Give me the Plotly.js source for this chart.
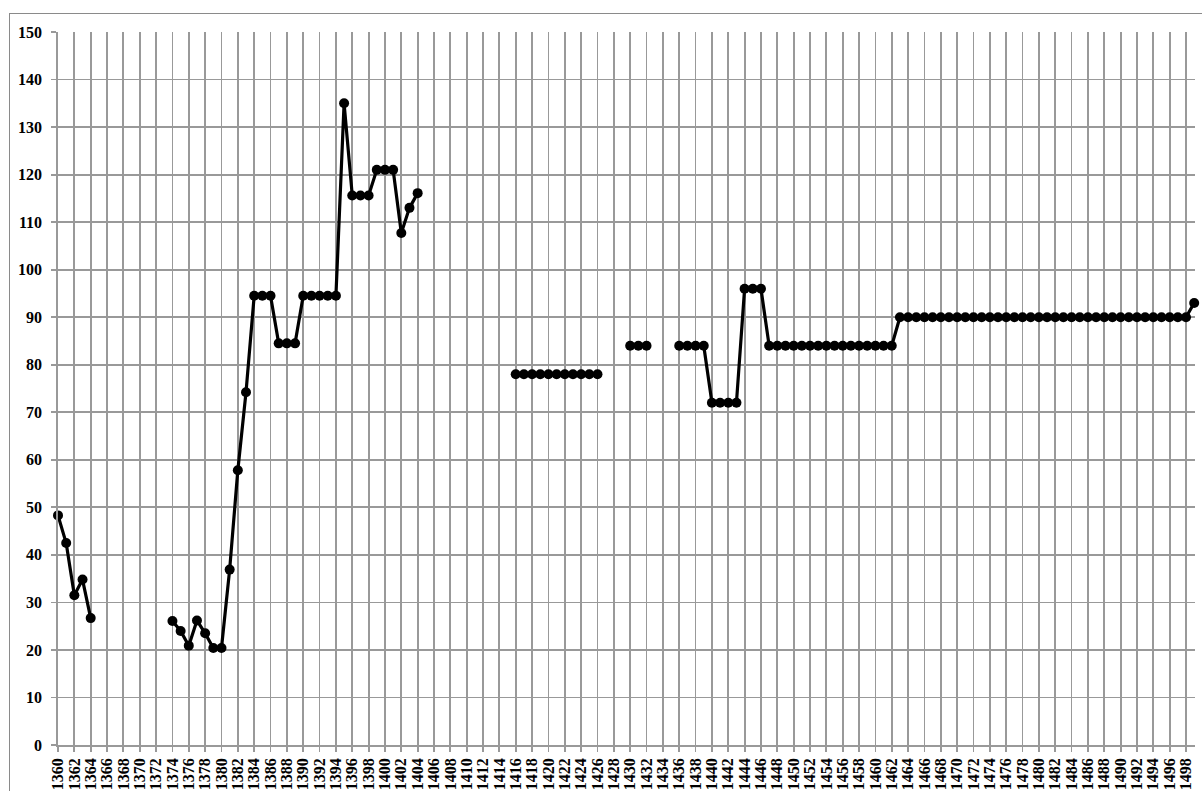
<!DOCTYPE html>
<html>
<head>
<meta charset="utf-8">
<script src="https://cdn.plot.ly/plotly-3.0.1.min.js"></script>
<style>
  html, body { margin: 0; padding: 0; background: #fff; overflow: hidden; }
  #wrap { position: relative; width: 1202px; height: 791px; }
  #frame { position: absolute; left: 9px; top: 13px; width: 1300px; height: 900px; border: 1.5px solid #8a8a8a; pointer-events: none; }
  #chart { position: absolute; left: 0; top: 0; width: 1202px; height: 791px; }
</style>
</head>
<body>
<div id="wrap">
  <div id="frame"></div>
  <div id="chart"></div>
</div>
<script>
const years = [
  1360,1361,1362,1363,1364,1365,1366,1367,1368,1369,
  1370,1371,1372,1373,1374,1375,1376,1377,1378,1379,
  1380,1381,1382,1383,1384,1385,1386,1387,1388,1389,
  1390,1391,1392,1393,1394,1395,1396,1397,1398,1399,
  1400,1401,1402,1403,1404,1405,1406,1407,1408,1409,
  1410,1411,1412,1413,1414,1415,1416,1417,1418,1419,
  1420,1421,1422,1423,1424,1425,1426,1427,1428,1429,
  1430,1431,1432,1433,1434,1435,1436,1437,1438,1439,
  1440,1441,1442,1443,1444,1445,1446,1447,1448,1449,
  1450,1451,1452,1453,1454,1455,1456,1457,1458,1459,
  1460,1461,1462,1463,1464,1465,1466,1467,1468,1469,
  1470,1471,1472,1473,1474,1475,1476,1477,1478,1479,
  1480,1481,1482,1483,1484,1485,1486,1487,1488,1489,
  1490,1491,1492,1493,1494,1495,1496,1497,1498,1499
];
const values = [
  48.3,42.5,31.5,34.8,26.7,null,null,null,null,null,
  null,null,null,null,26.1,24.0,20.9,26.2,23.5,20.4,
  20.4,36.9,57.8,74.2,94.5,94.5,94.5,84.5,84.5,84.5,
  94.5,94.5,94.5,94.5,94.5,135,115.6,115.6,115.6,121,
  121,121,107.7,113,116.1,null,null,null,null,null,
  null,null,null,null,null,null,78,78,78,78,
  78,78,78,78,78,78,78,null,null,null,
  84,84,84,null,null,null,84,84,84,84,
  72,72,72,72,96,96,96,84,84,84,
  84,84,84,84,84,84,84,84,84,84,
  84,84,84,90,90,90,90,90,90,90,
  90,90,90,90,90,90,90,90,90,90,
  90,90,90,90,90,90,90,90,90,90,
  90,90,90,90,90,90,90,90,90,93
];
const tickLabels = [
  "1360","1362","1364","1366","1368","1370","1372","1374","1376","1378",
  "1380","1382","1384","1386","1388","1390","1392","1394","1396","1398",
  "1400","1402","1404","1406","1408","1410","1412","1414","1416","1418",
  "1420","1422","1424","1426","1428","1430","1432","1434","1436","1438",
  "1440","1442","1444","1446","1448","1450","1452","1454","1456","1458",
  "1460","1462","1464","1466","1468","1470","1472","1474","1476","1478",
  "1480","1482","1484","1486","1488","1490","1492","1494","1496","1498"
];
const yTicks = [0,10,20,30,40,50,60,70,80,90,100,110,120,130,140,150];

const serif = 'Liberation Serif';
const gridColor = '#999999';
const trace = {
  x: years,
  y: values,
  type: 'scatter',
  mode: 'lines+markers',
  connectgaps: false,
  cliponaxis: false,
  line: { color: '#000', width: 3.2 },
  marker: { color: '#000', size: 10 },
  hoverinfo: 'x+y'
};
const layout = {
  width: 1202,
  height: 791,
  margin: { l: 58, r: 7, t: 32, b: 46 },
  paper_bgcolor: 'rgba(0,0,0,0)',
  plot_bgcolor: '#fff',
  showlegend: false,
  font: { family: serif, color: '#000', size: 16 },
  xaxis: {
    range: [1360, 1499.1],
    tickmode: 'array',
    tickvals: tickLabels.map(Number),
    ticktext: tickLabels.map(t => '<b>' + t + '</b>'),
    tickangle: -90,
    tickfont: { size: 16, family: serif, color: '#000' },
    showgrid: true,
    gridcolor: gridColor,
    gridwidth: 1.8,
    showline: true,
    linecolor: gridColor,
    linewidth: 1.8,
    ticks: 'outside',
    ticklen: 5,
    tickcolor: gridColor,
    tickwidth: 1.8,
    zeroline: false,
    fixedrange: true
  },
  yaxis: {
    range: [0, 150],
    tickmode: 'array',
    tickvals: yTicks,
    ticktext: yTicks.map(v => '<b>' + v + '</b>'),
    tickfont: { size: 16, family: serif, color: '#000' },
    ticklabelstandoff: 6,
    showgrid: true,
    gridcolor: gridColor,
    gridwidth: 1.8,
    showline: true,
    linecolor: gridColor,
    linewidth: 1.8,
    ticks: 'outside',
    ticklen: 5,
    tickcolor: gridColor,
    tickwidth: 1.8,
    zeroline: false,
    fixedrange: true
  }
};
Plotly.newPlot('chart', [trace], layout, { displayModeBar: false, staticPlot: true });
</script>
</body>
</html>
